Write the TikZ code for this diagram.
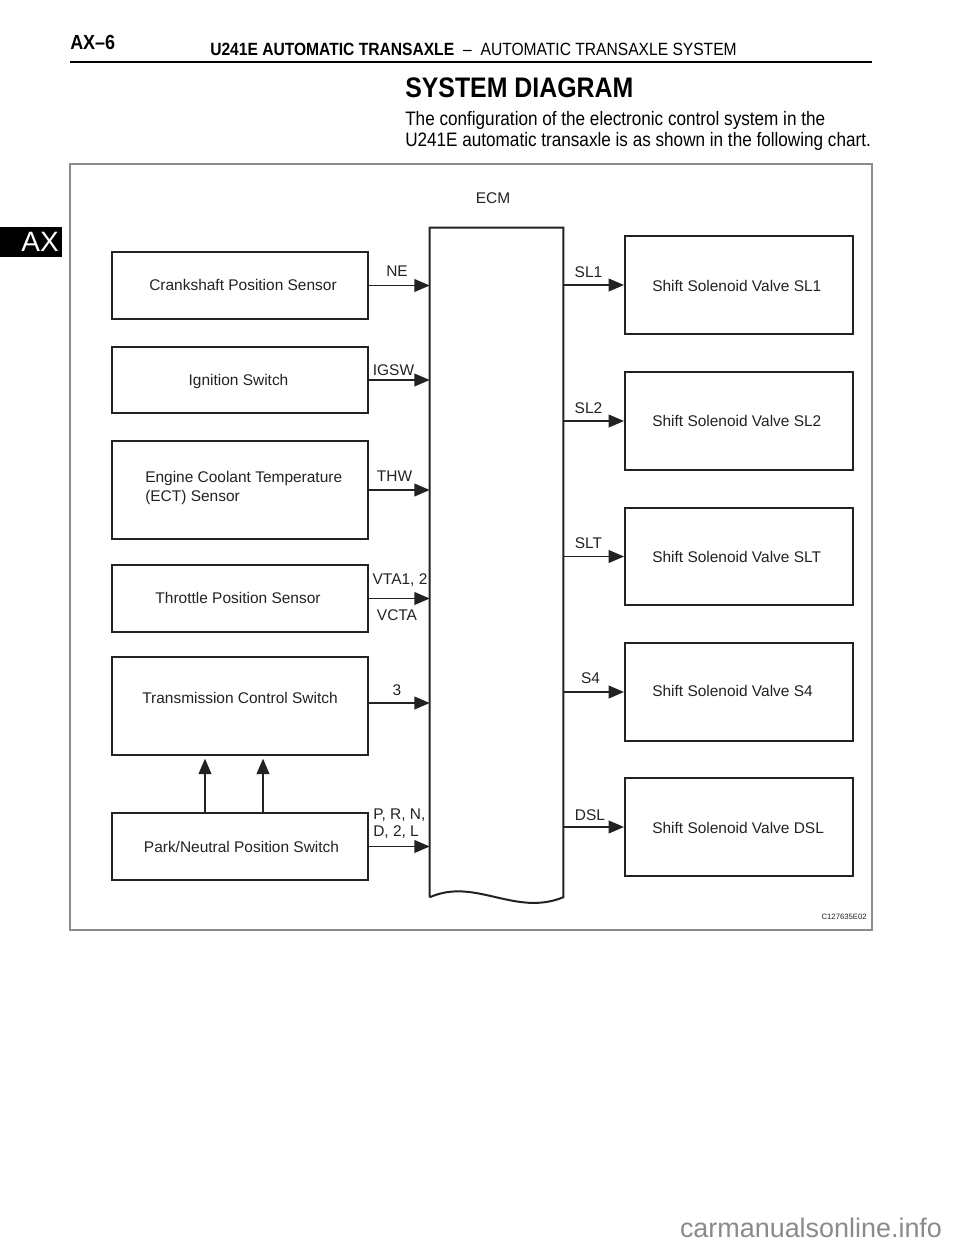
\documentclass[tikz,border=0pt]{standalone}
\usepackage{fontspec}
\setmainfont{Liberation Sans}
\newfontfamily\narrow[FakeStretch=0.88]{Liberation Sans}
\usetikzlibrary{arrows.meta}
\definecolor{ln}{HTML}{222222}
\definecolor{framec}{HTML}{8C8C8C}
\definecolor{wm}{HTML}{8A8A8A}
\begin{document}
\begin{tikzpicture}[x=0.75pt,y=-0.75pt,
  lbl/.style={inner sep=0pt, font=\fontsize{11.6}{14}\selectfont, text=ln},
  boxs/.style={draw=ln, line width=1.5pt, inner sep=0pt},
  lbox/.style={boxs, minimum width=192pt},
  rbox/.style={boxs, minimum width=171pt},
  arr/.style={draw=ln, line width=1.3pt, -{Triangle[length=11.5pt,width=9.5pt]}}
]
\useasboundingbox (0,0) rectangle (960,1242);

% header
\node[anchor=base west, inner sep=0pt, font=\narrow\bfseries\fontsize{15.3}{18}\selectfont] (pg) at (70,49) {AX–6};
\node[anchor=base west, inner sep=0pt, font=\narrow\fontsize{13.3}{16}\selectfont] (hd) at (210,55) {\textbf{U241E AUTOMATIC TRANSAXLE}\enspace–\enspace AUTOMATIC TRANSAXLE SYSTEM};
\draw[line width=1.8pt] (70,62) -- (872,62);

% side tab
\fill (0,227) rectangle (62,257);
\node[inner sep=0pt, text=white, font=\fontsize{21}{24}\selectfont] (tab) at (40,242) {AX};

% title and text
\node[anchor=base west, inner sep=0pt, font=\narrow\bfseries\fontsize{21.2}{25}\selectfont] (title) at (405,97) {SYSTEM DIAGRAM};
\node[anchor=base west, inner sep=0pt, font=\narrow\fontsize{14.6}{17}\selectfont] (t1) at (405,125) {The configuration of the electronic control system in the};
\node[anchor=base west, inner sep=0pt, font=\narrow\fontsize{14.6}{17}\selectfont] (t2) at (405,146) {U241E automatic transaxle is as shown in the following chart.};

% frame
\draw[framec, line width=0.9pt] (70,164) rectangle (872,930);

% ECM
\node[lbl] (ecmlbl) at (493,198) {ECM};
\node[inner sep=0pt, minimum width=99.75pt, minimum height=501.75pt] (ecm) at (496.5,562.5) {};
\draw[ln, line width=1.5pt] (ecm.south west) -- (ecm.north west) -- (ecm.north east) -- (ecm.south east)
  .. controls (515,917) and (475,877) .. (ecm.south west);

% left boxes
\node[lbox, minimum height=50.25pt] (cps) at (240,285.5) {};
\node[lbox, minimum height=49.5pt] (ign) at (240,380) {};
\node[lbox, minimum height=73.5pt] (ect) at (240,490) {};
\node[lbox, minimum height=50.25pt] (tps) at (240,598.5) {};
\node[lbox, minimum height=73.5pt] (tcs) at (240,706) {};
\node[lbox, minimum height=50.25pt] (pnp) at (240,846.5) {};

\node[lbl] (cpst) at (243,285) {Crankshaft Position Sensor};
\node[lbl] (ignt) at (238.5,381) {Ignition Switch};
\node[lbl, anchor=west, align=left, font=\fontsize{11.6}{14.25}\selectfont] (ectt) at (145,487.5) {Engine Coolant Temperature\\(ECT) Sensor};
\node[lbl] (tpst) at (238,598) {Throttle Position Sensor};
\node[lbl] (tcst) at (240,698) {Transmission Control Switch};
\node[lbl] (pnpt) at (241.5,847) {Park/Neutral Position Switch};

% right boxes
\node[rbox, minimum height=73.5pt] (sl1) at (739,285) {};
\node[rbox, minimum height=73.5pt] (sl2) at (739,421) {};
\node[rbox, minimum height=72.75pt] (slt) at (739,556.5) {};
\node[rbox, minimum height=73.5pt] (s4) at (739,692) {};
\node[rbox, minimum height=73.5pt] (dsl) at (739,827) {};

\node[lbl, anchor=west] (sl1t) at (652,286) {Shift Solenoid Valve SL1};
\node[lbl, anchor=west] (sl2t) at (652,421) {Shift Solenoid Valve SL2};
\node[lbl, anchor=west] (sltt) at (652,557) {Shift Solenoid Valve SLT};
\node[lbl, anchor=west] (s4t) at (652,691) {Shift Solenoid Valve S4};
\node[lbl, anchor=west] (dslt) at (652,828) {Shift Solenoid Valve DSL};

% input arrows
\draw[arr] (cps.east) -- (cps.east -| ecm.west);
\draw[arr] (ign.east) -- (ign.east -| ecm.west);
\draw[arr] (ect.east) -- (ect.east -| ecm.west);
\draw[arr] (tps.east) -- (tps.east -| ecm.west);
\draw[arr] ([yshift=2.25pt]tcs.east) -- ([yshift=2.25pt]tcs.east -| ecm.west);
\draw[arr] (pnp.east) -- (pnp.east -| ecm.west);

% output arrows
\draw[arr] (ecm.east |- sl1.west) -- (sl1.west);
\draw[arr] (ecm.east |- sl2.west) -- (sl2.west);
\draw[arr] (ecm.east |- slt.west) -- (slt.west);
\draw[arr] (ecm.east |- s4.west) -- (s4.west);
\draw[arr] (ecm.east |- dsl.west) -- (dsl.west);

% switch arrows
\coordinate (pa) at (205,813);
\coordinate (pb) at (263,813);
\draw[arr, shorten >=2pt] (pa) -- (pa |- tcs.south);
\draw[arr, shorten >=2pt] (pb) -- (pb |- tcs.south);

% signal labels
\node[lbl] (ne) at (397,271) {NE};
\node[lbl] (igsw) at (393.5,370) {IGSW};
\node[lbl] (thw) at (394.5,476) {THW};
\node[lbl] (vta) at (400,580) {VTA1, 2};
\node[lbl] (vcta) at (397,615) {VCTA};
\node[lbl] (three) at (397,690) {3};
\node[lbl, anchor=west, align=left, font=\fontsize{11.6}{12.75}\selectfont] (prn) at (373,823.5) {P, R, N,\\D, 2, L};
\node[lbl] (sl1l) at (588.5,272) {SL1};
\node[lbl] (sl2l) at (588.5,408) {SL2};
\node[lbl] (sltl) at (588.5,543) {SLT};
\node[lbl] (s4l) at (590.5,678) {S4};
\node[lbl] (dsll) at (590,815) {DSL};

% code and watermark
\node[anchor=east, inner sep=0pt, font=\fontsize{5.8}{7}\selectfont, text=ln] (code) at (867,917) {C127635E02};
\node[inner sep=0pt, font=\fontsize{20.2}{24}\selectfont, text=wm] (wmk) at (811,1228) {carmanualsonline.info};
\end{tikzpicture}
\end{document}
